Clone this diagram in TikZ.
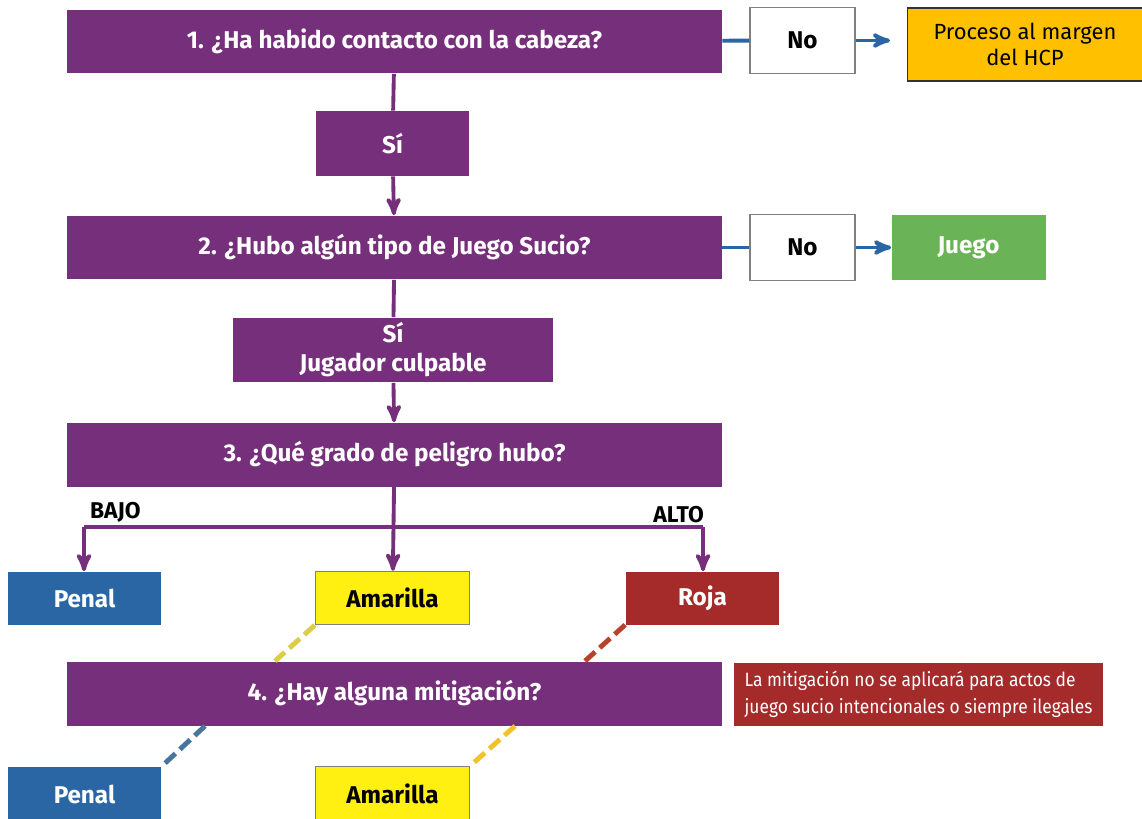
\documentclass[tikz,border=0pt]{standalone}
\usepackage{fontspec}
\setmainfont{Fira Sans}
\newfontfamily\notefont[FakeStretch=0.9]{Fira Sans}
\usetikzlibrary{arrows,positioning}

\definecolor{hcppurple}{RGB}{118,47,122}
\definecolor{hcpblue}{RGB}{42,102,163}
\definecolor{hcpgreen}{RGB}{106,180,87}
\definecolor{hcpred}{RGB}{165,42,42}
\definecolor{hcpyellow}{RGB}{255,240,18}
\definecolor{hcporange}{RGB}{255,192,0}

\begin{document}
\begin{tikzpicture}[x=0.02cm,y=-0.02cm,>=stealth',
    base box/.style={rectangle,inner sep=0pt,font=\fontsize{13.8}{16.5}\selectfont\bfseries,align=center},
    question/.style={base box,fill=hcppurple,text=white,minimum width=13.1cm,minimum height=1.28cm},
    yes box/.style={base box,fill=hcppurple,text=white,minimum height=1.3cm},
    no box/.style={base box,fill=white,draw=gray,thick,minimum width=2.1cm,minimum height=1.32cm},
    card/.style={base box,minimum width=3.08cm,minimum height=1.06cm},
    flow/.style={draw=hcppurple,line width=2.2pt},
    side/.style={draw=hcpblue,line width=2.2pt},
    mitig/.style={line width=2.8pt,dash pattern=on 8pt off 3.5pt}]

  \useasboundingbox (0,0) rectangle (1142,818);

  % questions
  \node[question] (q1) at (394.5,41.5) {1. ¿Ha habido contacto con la cabeza?};
  \node[question] (q2) at (394.5,247.5) {2. ¿Hubo algún tipo de Juego Sucio?};
  \node[question] (q3) at (394.5,454.5) {3. ¿Qué grado de peligro hubo?};
  \node[question] (q4) at (394.5,693.5) {4. ¿Hay alguna mitigación?};

  \node[yes box,minimum width=3.06cm] (si1) at (392.5,143.5) {Sí};
  \node[yes box,minimum width=6.4cm] (si2) at (393,350) {Sí\\Jugador culpable};

  % the No side
  \node[no box] (no1) at (802.5,40.5) {No};
  \node[base box,fill=hcporange,draw=black!80,thick,minimum width=4.7cm,minimum height=1.46cm,
        font=\fontsize{12.5}{15}\selectfont] (hcp) at (1025,44.5) {Proceso al margen\\del HCP};
  \node[no box] (no2) at (802.5,247.5) {No};
  \node[card,fill=hcpgreen,text=white,minimum height=1.3cm] (juego) at (968.5,247.5) {Juego};

  % sanctions
  \node[card,fill=hcpblue,text=white] (penal1) at (84.5,598) {Penal};
  \node[card,fill=hcpyellow,draw=gray,thick] (amar1) at (392.5,598) {Amarilla};
  \node[card,fill=hcpred,text=white] (roja) at (702.5,598) {Roja};
  \node[card,fill=hcpblue,text=white,minimum height=1.1cm] (penal2) at (84.5,794) {Penal};
  \node[card,fill=hcpyellow,draw=gray,thick,minimum height=1.1cm] (amar2) at (392.5,794) {Amarilla};

  \node[base box,fill=hcpred,text=white,minimum width=7.38cm,minimum height=1.26cm,align=left,
        inner xsep=2pt,font=\notefont\fontsize{11}{15.5}\selectfont] (nota) at (918.5,694.5)
        {La mitigación no se aplicará para actos de\\juego sucio intencionales o siempre ilegales};

  % main flow
  \draw[flow] (q1) -- (si1);
  \draw[flow,->] (si1) -- (q2);
  \draw[flow] (q2) -- (si2);
  \draw[flow,->] (si2) -- (q3);
  \draw[flow,->] (q3) -- (amar1);
  \coordinate (bajo) at (84,527);
  \coordinate (alto) at (703,527);
  \draw[flow,->] (bajo) -- (penal1.north -| bajo);
  \draw[flow,->] (alto) -- (roja.north -| alto);
  \draw[flow] (bajo) -- (alto);
  \node[font=\fontsize{13}{15}\selectfont\bfseries,above right=-1pt and 0pt of bajo] (lbajo) {BAJO};
  \node[font=\fontsize{13}{15}\selectfont\bfseries,above left=-1pt and -4pt of alto] (lalto) {ALTO};

  \draw[side] (q1) -- (no1);
  \coordinate (hcpin) at (890,40.5);
  \draw[side,->] (no1) -- (hcpin);
  \draw[side] (q2) -- (no2);
  \draw[side,->] (no2) -- (juego);

  % mitigation
  \coordinate (m1) at (275,661);
  \coordinate (m2) at (585,661);
  \coordinate (m3) at (205,726);
  \coordinate (m4) at (515,726);
  \draw[mitig,draw={rgb,255:red,220;green,204;blue,70}] (amar1.south west) -- (m1);
  \draw[mitig,draw={rgb,255:red,184;green,66;blue,44}] (roja.south west) -- (m2);
  \draw[mitig,draw={rgb,255:red,72;green,117;blue,158}] (m3) -- (penal2.north east);
  \draw[mitig,draw={rgb,255:red,240;green,194;blue,46}] (m4) -- (amar2.north east);
\end{tikzpicture}
\end{document}
